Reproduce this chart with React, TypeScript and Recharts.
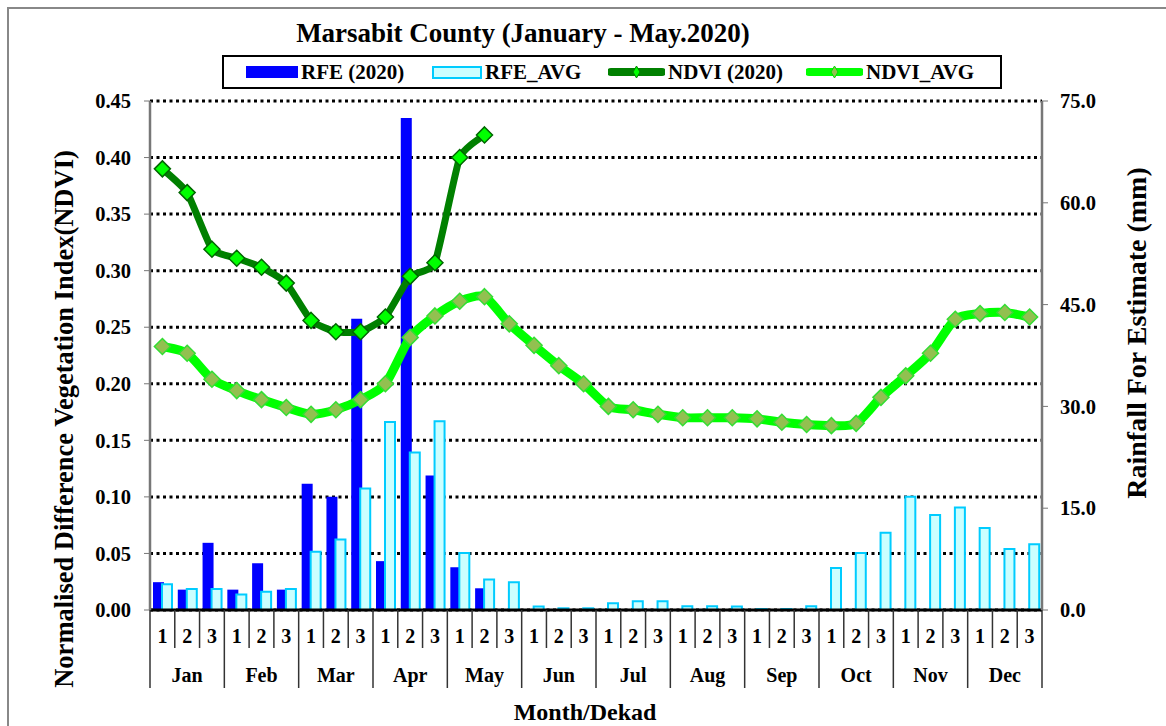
import React from 'react';
import { ComposedChart, Bar, Line, XAxis, YAxis, CartesianGrid, Legend, Label } from 'recharts';

const MONTHS = ['Jan', 'Feb', 'Mar', 'Apr', 'May', 'Jun', 'Jul', 'Aug', 'Sep', 'Oct', 'Nov', 'Dec'];
const DEKADS = [1, 2, 3];

// rainfall (mm), right axis
const RFE_2020 = [4.1, 3.0, 9.9, 3.0, 6.9, 3.0, 18.6, 16.7, 42.9, 7.2, 72.5, 19.8, 6.3, 3.2];
const RFE_AVG = [
  3.8, 3.1, 3.1, 2.3, 2.7, 3.1, 8.6, 10.4, 17.9, 27.7, 23.2, 27.8,
  8.4, 4.5, 4.1, 0.5, 0.25, 0.25, 1.0, 1.3, 1.3, 0.55, 0.55, 0.5,
  0.15, 0.15, 0.55, 6.2, 8.4, 11.4, 16.7, 14.0, 15.1, 12.1, 9.0, 9.7,
];

// NDVI, left axis
const NDVI_2020 = [0.390, 0.369, 0.319, 0.311, 0.303, 0.289, 0.256, 0.246, 0.246, 0.259, 0.295, 0.307, 0.400, 0.420];
const NDVI_AVG = [
  0.233, 0.227, 0.204, 0.194, 0.186, 0.179, 0.173, 0.177, 0.186, 0.200, 0.241, 0.260,
  0.273, 0.277, 0.253, 0.234, 0.216, 0.200, 0.180, 0.177, 0.173, 0.170, 0.170, 0.170,
  0.169, 0.166, 0.164, 0.163, 0.165, 0.188, 0.207, 0.227, 0.257, 0.262, 0.263, 0.259,
];

const NDVI_TICKS = [0, 0.05, 0.1, 0.15, 0.2, 0.25, 0.3, 0.35, 0.4, 0.45];
const RAIN_TICKS = [0, 15, 30, 45, 60, 75];

const data = MONTHS.flatMap((m, mi) =>
  DEKADS.map((d, di) => {
    const i = mi * 3 + di;
    return {
      key: `${m}-${d}`,
      rfe: RFE_2020[i] ?? null,
      rfeAvg: RFE_AVG[i],
      ndvi: NDVI_2020[i] ?? null,
      ndviAvg: NDVI_AVG[i],
    };
  })
);

const FONT = '"Liberation Serif", "Times New Roman", serif';
const W = 1166;
const H = 726;
const LEFT_W = 150;
const RIGHT_W = 124;
const X_H = 116;
const TOP = 101;
const BAND = (W - LEFT_W - RIGHT_W) / data.length;

const textStyle = { fontFamily: FONT, fontWeight: 'bold' as const, fill: '#000' };

// lightly smoothed line through the points (Excel "smoothed line" look)
const smoothCurve = (k: number) => (context: any) => {
  let pts: number[][] = [];
  return {
    areaStart() {},
    areaEnd() {},
    lineStart() {
      pts = [];
    },
    point(x: number, y: number) {
      pts.push([+x, +y]);
    },
    lineEnd() {
      if (!pts.length) return;
      context.moveTo(pts[0][0], pts[0][1]);
      for (let i = 0; i < pts.length - 1; i++) {
        const p0 = pts[i - 1] || pts[i];
        const p1 = pts[i];
        const p2 = pts[i + 1];
        const p3 = pts[i + 2] || p2;
        context.bezierCurveTo(
          p1[0] + (p2[0] - p0[0]) * k,
          p1[1] + (p2[1] - p0[1]) * k,
          p2[0] - (p3[0] - p1[0]) * k,
          p2[1] - (p3[1] - p1[1]) * k,
          p2[0],
          p2[1]
        );
      }
    },
  };
};

function DekadTick(props: any) {
  const { x, y, index } = props;
  const dekad = DEKADS[index % 3];
  const month = MONTHS[Math.floor(index / 3)];
  const half = BAND / 2;
  return (
    <g>
      <line x1={x - half} x2={x - half} y1={y} y2={y + (dekad === 1 ? 78 : 38)} stroke="#333" strokeWidth={1.5} />
      {index === data.length - 1 && (
        <line x1={x + half} x2={x + half} y1={y} y2={y + 78} stroke="#333" strokeWidth={1.5} />
      )}
      <text x={x} y={y + 33} textAnchor="middle" fontSize={20} {...textStyle}>{dekad}</text>
      {dekad === 2 && (
        <text x={x} y={y + 72} textAnchor="middle" fontSize={20} {...textStyle}>{month}</text>
      )}
    </g>
  );
}

const diamond = (fill: string, stroke: string, r: number) => (props: any) => {
  const { cx, cy, index, value } = props;
  if (value == null || cx == null || cy == null) return <g key={index} />;
  return (
    <polygon
      key={index}
      points={`${cx},${cy - r} ${cx + r},${cy} ${cx},${cy + r} ${cx - r},${cy}`}
      fill={fill}
      stroke={stroke}
      strokeWidth={1.5}
    />
  );
};

function LegendBox() {
  const item = (left: number, swatch: React.ReactNode, label: string) => (
    <div style={{ position: 'absolute', left, top: 0, height: 30, display: 'flex', alignItems: 'center' }}>
      {swatch}
      <span style={{ marginLeft: 3, fontFamily: FONT, fontWeight: 'bold', fontSize: 21, color: '#000' }}>{label}</span>
    </div>
  );
  const lineSwatch = (color: string, dot: string, dotStroke: string) => (
    <svg width={57} height={14}>
      <line x1={3} x2={54} y1={7} y2={7} stroke={color} strokeWidth={8} strokeLinecap="round" />
      <polygon points="28.5,1 32,7 28.5,13 25,7" fill={dot} stroke={dotStroke} strokeWidth={1} />
    </svg>
  );
  return (
    <div style={{ position: 'relative', width: 776, height: 30, border: '2px solid #000', background: '#fff' }}>
      {item(22, <div style={{ width: 52, height: 12, background: '#0000FF' }} />, 'RFE (2020)')}
      {item(208, <div style={{ width: 46, height: 9, background: '#CCFFFF', border: '2px solid #00CCFF' }} />, 'RFE_AVG')}
      {item(384, lineSwatch('#008000', '#00FF00', '#008000'), 'NDVI (2020)')}
      {item(582, lineSwatch('#00FF00', '#92C050', '#00DD00'), 'NDVI_AVG')}
    </div>
  );
}

export default function App() {
  return (
    <div style={{ position: 'absolute', left: 0, top: 0, width: W, height: H, overflow: 'hidden', background: '#fff' }}>
      <div
        style={{
          position: 'absolute', left: 7, top: 7, width: W - 7, height: H - 7,
          borderLeft: '2px solid #888', borderTop: '2px solid #888', boxSizing: 'border-box',
        }}
      />
      <div
        style={{
          position: 'absolute', left: 223, top: 18, width: 600, textAlign: 'center',
          fontFamily: FONT, fontWeight: 'bold', fontSize: 27, color: '#000', whiteSpace: 'nowrap',
        }}
      >
        Marsabit County (January - May.2020)
      </div>
      <ComposedChart
        width={W}
        height={H}
        data={data}
        margin={{ top: TOP, right: 0, bottom: 0, left: 0 }}
        barGap={-2}
        barCategoryGap={0}
      >
        <CartesianGrid
          yAxisId="left"
          horizontal
          vertical={false}
          stroke="#000"
          strokeWidth={3}
          strokeDasharray="3 3.5"
        />
        <XAxis
          dataKey="key"
          height={X_H}
          interval={0}
          tickLine={false}
          tickSize={0}
          tickMargin={0}
          axisLine={{ stroke: '#000', strokeWidth: 3 }}
          tick={<DekadTick />}
        >
          <Label
            content={() => (
              <text x={585} y={720} textAnchor="middle" fontSize={24} {...textStyle}>Month/Dekad</text>
            )}
          />
        </XAxis>
        <YAxis
          yAxisId="left"
          width={LEFT_W}
          domain={[0, 0.45]}
          ticks={NDVI_TICKS}
          tickFormatter={(v: number) => v.toFixed(2)}
          axisLine={{ stroke: '#777', strokeWidth: 2.5 }}
          tickLine={{ stroke: '#777', strokeWidth: 1 }}
          tickSize={6}
          tickMargin={13}
          tick={{ ...textStyle, fontSize: 20.5 }}
        >
          <Label
            content={() => (
              <text x={0} y={0} transform="translate(73,419) rotate(-90)" textAnchor="middle" fontSize={26.5} {...textStyle}>
                Normalised Difference  Vegetation Index(NDVI)
              </text>
            )}
          />
        </YAxis>
        <YAxis
          yAxisId="right"
          orientation="right"
          width={RIGHT_W}
          domain={[0, 75]}
          ticks={RAIN_TICKS}
          tickFormatter={(v: number) => v.toFixed(1)}
          axisLine={{ stroke: '#777', strokeWidth: 2.5 }}
          tickLine={{ stroke: '#777', strokeWidth: 1 }}
          tickSize={6}
          tickMargin={12}
          tick={{ ...textStyle, fontSize: 20.5 }}
        >
          <Label
            content={() => (
              <text x={0} y={0} transform="translate(1146,333) rotate(-90)" textAnchor="middle" fontSize={28} {...textStyle}>
                Rainfall For Estimate (mm)
              </text>
            )}
          />
        </YAxis>
        <Legend
          verticalAlign="middle"
          align="center"
          layout="horizontal"
          wrapperStyle={{ position: 'absolute', left: 222, top: 55, width: 780, height: 34 }}
          content={() => <LegendBox />}
        />
        <Bar yAxisId="right" dataKey="rfe" name="RFE (2020)" fill="#0000FF" barSize={11} isAnimationActive={false} />
        <Bar
          yAxisId="right"
          dataKey="rfeAvg"
          name="RFE_AVG"
          fill="#CCFFFF"
          stroke="#00CCFF"
          strokeWidth={2}
          barSize={10}
          isAnimationActive={false}
        />
        <Line
          yAxisId="left"
          type={smoothCurve(0.12) as any}
          dataKey="ndviAvg"
          name="NDVI_AVG"
          stroke="#00FF00"
          strokeWidth={9}
          dot={diamond('#92C050', '#33DD33', 8)}
          activeDot={false}
          isAnimationActive={false}
        />
        <Line
          yAxisId="left"
          type={smoothCurve(0.08) as any}
          dataKey="ndvi"
          name="NDVI (2020)"
          stroke="#008000"
          strokeWidth={7}
          dot={diamond('#00FF00', '#006600', 8)}
          activeDot={false}
          connectNulls={false}
          isAnimationActive={false}
        />
      </ComposedChart>
    </div>
  );
}
